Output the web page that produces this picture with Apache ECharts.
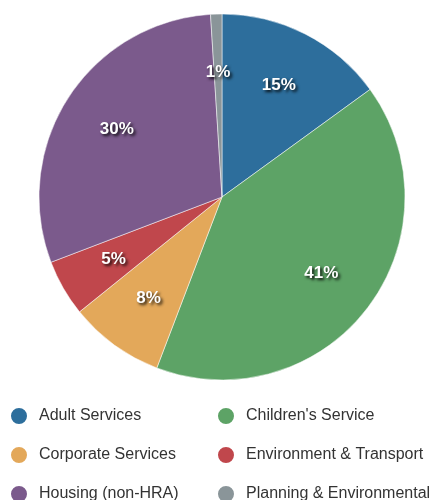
<!DOCTYPE html>
<html><head><meta charset="utf-8">
<script src="https://cdn.jsdelivr.net/npm/echarts@6/dist/echarts.min.js"></script>
<style>html,body{margin:0;padding:0;background:#fff}#c{width:434px;height:500px}</style>
</head><body><div id="c"></div>
<script>
const categories = ["Adult Services","Children's Service","Corporate Services","Environment & Transport","Housing (non-HRA)","Planning & Environmental"];
const values = [15.0, 40.8, 8.4, 5.0, 29.8, 1.0];
const colors = ['#2d6e9c','#5da366','#e3a85a','#c0474c','#7b5a8c','#8a9599'];
const legendCol1 = ["Adult Services","Corporate Services","Housing (non-HRA)"];
const legendCol2 = ["Children's Service","Environment & Transport","Planning & Environmental"];

const data = categories.map((n,i)=>({name:n,value:values[i],itemStyle:{color:colors[i]}}));
const chart = echarts.init(document.getElementById('c'));
const legendBase = {
  orient:'vertical', top:406, height:200, padding:0, itemWidth:18, itemHeight:18, itemGap:19, icon:'circle',
  textStyle:{fontFamily:'Liberation Sans, Arial, sans-serif', fontSize:16, color:'#333', padding:[0,0,0,6]},
  selectedMode:false
};
chart.setOption({
  animation:false,
  legend:[
    Object.assign({}, legendBase, {left:9, data:legendCol1}),
    Object.assign({}, legendBase, {left:216, data:legendCol2})
  ],
  series:[
    {type:'pie', center:[222,197], radius:[0,183], startAngle:90, clockwise:true,
     data:data, label:{show:false}, labelLine:{show:false},
     itemStyle:{borderColor:'#fff', borderWidth:0.5}, emphasis:{disabled:true}},
    {type:'pie', center:[222,197], radius:[61,183], startAngle:90, clockwise:true, silent:true,
     data:data.map(d=>({name:d.name,value:d.value,itemStyle:{color:'rgba(0,0,0,0)'}})),
     labelLine:{show:false}, emphasis:{disabled:true},
     label:{show:true, position:'inside', formatter:p=>Math.round(p.value)+'%',
       fontFamily:'Liberation Sans, Arial, sans-serif', fontSize:17, fontWeight:'bold', color:'#fff',
       textShadowColor:'rgba(0,0,0,0.9)', textShadowBlur:3, textShadowOffsetX:2, textShadowOffsetY:2}}
  ]
});
</script></body></html>
